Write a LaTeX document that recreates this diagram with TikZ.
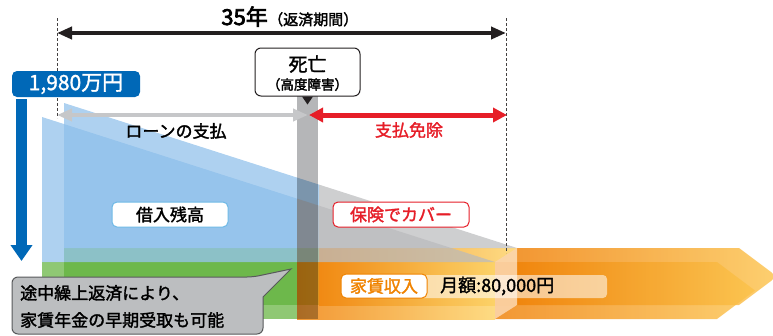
\documentclass[tikz,border=0pt]{standalone}
\usepackage{fontspec}
\setmainfont{Noto Sans CJK JP}
\usetikzlibrary{arrows.meta}
\newcommand\hv[1]{\special{pdf:literal direct 2 Tr 0.3 w}#1\special{pdf:literal direct 0 Tr}}
\definecolor{bluec}{RGB}{140,190,234}
\definecolor{grayc}{RGB}{185,186,188}
\definecolor{greenc}{RGB}{95,177,57}
\definecolor{barc}{RGB}{181,182,184}
\definecolor{orL}{RGB}{239,125,0}
\definecolor{orR1}{RGB}{253,210,100}
\definecolor{orR2}{RGB}{252,195,75}
\definecolor{peach}{RGB}{251,212,170}
\definecolor{darkblue}{RGB}{0,104,183}
\definecolor{redc}{RGB}{230,30,40}
\definecolor{orText}{RGB}{240,131,0}
\definecolor{callFill}{RGB}{188,190,192}
\definecolor{callDraw}{RGB}{88,89,91}
\definecolor{lbBorder}{RGB}{110,185,230}
\definecolor{arrGray}{RGB}{198,199,201}
\definecolor{blk}{RGB}{35,31,32}
\begin{document}
\begin{tikzpicture}[x=1pt,y=-1pt,
  face/.style={fill opacity=0.7},
  oface/.style={fill opacity=0.8},
  dashline/.style={draw=blk!85, line width=0.8pt, dash pattern=on 3pt off 2pt},
  labelbox/.style={draw, fill=white, rounded corners=5pt, line width=1pt, minimum height=25pt, inner sep=0pt},
  bigtext/.style={font=\fontsize{17}{20}\selectfont}
]
\useasboundingbox (0,0) rectangle (773,335);
% green bar
\fill[greenc, face] (64,248) rectangle (319,305);
\fill[greenc, face] (42,262) rectangle (297,319);
% orange box
\shade[left color=orL, right color=orR1, oface] (319,248) rectangle (517,305);
\shade[left color=orL, right color=orR1, oface] (297,262) rectangle (495,319);
% big arrow
\shade[left color=orL, right color=orR2, oface] (517,248) -- (739,248) -- (777,276.5) -- (739,305) -- (517,305) -- cycle;
\shade[left color=orL, right color=orR2, oface] (495,262) -- (717,262) -- (755,290.5) -- (717,319) -- (495,319) -- cycle;
\fill[peach, fill opacity=0.9] (495,262) -- (517,248) -- (517,305) -- (495,319) -- cycle;
% loan balance prism
\fill[bluec, face] (64,103) -- (319,184.6) -- (319,248) -- (64,248) -- cycle;
\fill[grayc, face] (319,184.6) -- (517,248) -- (319,248) -- cycle;
\fill[bluec, face] (42,117) -- (297,198.6) -- (297,262) -- (42,262) -- cycle;
\fill[grayc, face] (297,198.6) -- (495,262) -- (297,262) -- cycle;
% death bar
\fill[barc, blend mode=multiply] (297,96) rectangle (318,319);
% dashed lines
\coordinate (d1t) at (57,18); \coordinate (d1b) at (57,118);
\coordinate (d2t) at (506,18); \coordinate (d2b) at (506,253);
\draw[dashline] (d1t) -- (d1b);
\draw[dashline] (d2t) -- (d2b);
% title
\node[anchor=base east, inner sep=0pt, font=\fontsize{22}{24}\selectfont] (t35) at (268,25) {\special{pdf:literal direct 2 Tr 0.7 w}35年\special{pdf:literal direct 0 Tr}};
\node[anchor=base west, inner sep=0pt, font=\fontsize{15}{16}\selectfont] (tper) at (t35.base east) {\hv{（返済期間）}};
% black arrow
\coordinate (a1l) at (57,33); \coordinate (a1r) at (506,33);
\draw[blk, line width=4.5pt, {Triangle[length=15pt,width=12pt]}-{Triangle[length=15pt,width=12pt]}] (a1l) -- (a1r);
% gray and red arrows
\coordinate (a2l) at (57,115); \coordinate (a2r) at (308,115);
\draw[arrGray, line width=4.3pt, {Triangle[length=15pt,width=12pt]}-{Triangle[length=15pt,width=12pt]}] (a2l) -- (a2r);
\coordinate (a3l) at (309,115); \coordinate (a3r) at (507,115);
\draw[redc, line width=5pt, {Triangle[length=14pt,width=14pt]}-{Triangle[length=14pt,width=14pt]}] (a3l) -- (a3r);
\node[bigtext, inner sep=0pt] (loan) at (176,131) {\hv{ローンの支払}};
\node[bigtext, inner sep=0pt, text=redc] (menjo) at (409,130) {\hv{支払免除}};
% blue amount label and arrow
\node[fill=darkblue, text=white, rounded corners=5pt, minimum width=128pt, minimum height=26pt, inner sep=0pt, font=\fontsize{21}{22}\selectfont] (amt) at (76,84) {\hv{1,980万円}};
\coordinate (ba1) at (21.5,99); \coordinate (ba2) at (21.5,261);
\draw[darkblue, line width=11pt, -{Triangle[length=16pt,width=21pt]}] (ba1) -- (ba2);
% death box
\node[draw=blk, fill=white, rounded corners=6pt, line width=1pt, minimum width=105pt, minimum height=48pt, inner sep=0pt] (death) at (307.5,72) {};
\node[inner sep=0pt, font=\fontsize{19}{20}\selectfont] (d1) at (307.5,64) {\hv{死亡}};
\node[inner sep=0pt, font=\fontsize{13.5}{15}\selectfont] (d2) at (307.5,84.5) {\hv{（高度障害）}};
\fill[blk] ([xshift=-5.5pt]death.south) -- ([xshift=5.5pt]death.south) -- ([yshift=-8pt]death.south) -- cycle;
% labels
\node[labelbox, draw=lbBorder, minimum width=116pt, bigtext] (zan) at (170,214.5) {\hv{借入残高}};
\node[labelbox, draw=redc, minimum width=136pt, bigtext, text=redc] (hoken) at (401,214.5) {\hv{保険でカバー}};
\fill[white, fill opacity=0.55, rounded corners=4pt] (420,275) rectangle (607,298);
\node[labelbox, draw=orText, minimum width=86pt, minimum height=24pt, bigtext, text=orText] (yachin) at (384,286) {\hv{家賃収入}};
\node[anchor=west, inner sep=0pt, font=\fontsize{18}{20}\selectfont] (getsu) at (440,286) {\hv{月額:80,000円}};
% callout
\draw[callDraw, fill=callFill, line width=1pt, rounded corners=6pt]
  (253,277) [sharp corners] -- (291,269) -- (263,297) [rounded corners=6pt] -- (263,334) -- (12,334) -- (12,277) -- cycle;
\node[anchor=west, inner sep=0pt, bigtext] (c1) at (20,293) {\hv{途中繰上返済により、}};
\node[anchor=west, inner sep=0pt, bigtext] (c2) at (20,320) {\hv{家賃年金の早期受取も可能}};
\end{tikzpicture}
\end{document}
